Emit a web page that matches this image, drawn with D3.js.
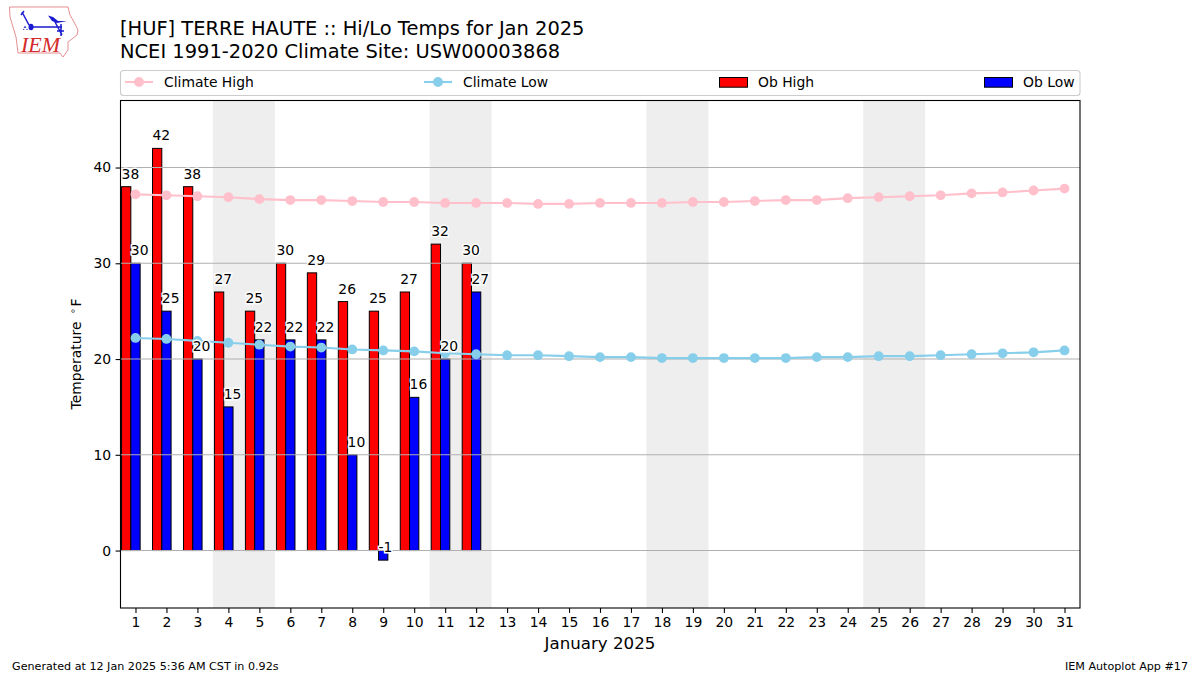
<!DOCTYPE html>
<html><head><meta charset="utf-8">
<script src="https://cdn.jsdelivr.net/npm/d3@7/dist/d3.min.js"></script>
<style>html,body{margin:0;padding:0;background:#fff}svg{display:block}text{font-family:"DejaVu Sans",sans-serif;fill:#000}</style>
</head><body><svg id="c" width="1200" height="675"></svg>
<script>
const days=d3.range(1,32);
const obDays=[1,2,3,4,5,6,7,8,9,10,11,12];
const obHigh=[38,42,38,27,25,30,29,26,25,27,32,30];
const obLow=[30,25,20,15,22,22,22,10,-1,16,20,27];
const climateHigh=[37.2,37.1,37.0,36.9,36.7,36.6,36.6,36.5,36.4,36.4,36.3,36.3,36.3,36.2,36.2,36.3,36.3,36.3,36.4,36.4,36.5,36.6,36.6,36.8,36.9,37.0,37.1,37.3,37.4,37.6,37.8];
const climateLow=[22.2,22.1,21.9,21.7,21.5,21.3,21.2,21.0,20.9,20.8,20.6,20.5,20.4,20.4,20.3,20.2,20.2,20.1,20.1,20.1,20.1,20.1,20.2,20.2,20.3,20.3,20.4,20.5,20.6,20.7,20.9];
const weekends=[[4,5],[11,12],[18,19],[25,26]];
const yTicks=[0,10,20,30,40];
const seriesNames=["Climate High","Climate Low","Ob High","Ob Low"];
const titleLines=["[HUF] TERRE HAUTE :: Hi/Lo Temps for Jan 2025","NCEI 1991-2020 Climate Site: USW00003868"];

const L=120,R=1080,T=100.5,B=608;
const x=d3.scaleLinear().domain([0.5,31.5]).range([L,R]);
const y=d3.scaleLinear().domain([-6,47]).range([B,T]);
const svg=d3.select("#c");
const bw=x(1.3)-x(1);

// weekend shading
svg.append("g").selectAll("rect").data(weekends).join("rect")
 .attr("x",d=>x(d[0]-.5)).attr("width",d=>x(d[1]+.5)-x(d[0]-.5))
 .attr("y",T).attr("height",B-T).attr("fill","#eeeeee");

// bars
const bar=(vals,off,col)=>svg.append("g").selectAll("rect").data(obDays).join("rect")
 .attr("x",d=>x(d+off)).attr("width",bw)
 .attr("y",(d,i)=>Math.min(y(vals[i]),y(0))).attr("height",(d,i)=>Math.abs(y(vals[i])-y(0)))
 .attr("fill",col).attr("stroke","#000").attr("stroke-width",1);
bar(obHigh,-.45,"#ff0000");
bar(obLow,-.15,"#0000ff");

// grid
svg.append("g").selectAll("line").data(yTicks).join("line")
 .attr("x1",L).attr("x2",R).attr("y1",d=>y(d)).attr("y2",d=>y(d))
 .attr("stroke","#b0b0b0").attr("stroke-width",1.1);

// climate lines
const line=d3.line().x((d,i)=>x(days[i])).y(d=>y(d));
const climate=(vals,col)=>{
 svg.append("path").datum(vals).attr("d",line).attr("fill","none").attr("stroke",col).attr("stroke-width",2.1);
 svg.append("g").selectAll("circle").data(vals).join("circle")
  .attr("cx",(d,i)=>x(days[i])).attr("cy",d=>y(d)).attr("r",4.9).attr("fill",col);
};
climate(climateHigh,"#ffc0cb");
climate(climateLow,"#87ceeb");

// bar labels
const labels=(vals,off)=>svg.append("g").selectAll("text").data(obDays).join("text")
 .attr("x",d=>x(d+off)).attr("y",(d,i)=>y(vals[i])-8)
 .attr("font-size","13.9px").attr("stroke","#fff").attr("stroke-width",2.8).attr("paint-order","stroke")
 .text((d,i)=>vals[i]);
labels(obHigh,-.45);
labels(obLow,-.15);

// frame
svg.append("rect").attr("x",L+.5).attr("y",T).attr("width",R-L-.5).attr("height",B-T).attr("fill","none").attr("stroke","#000").attr("stroke-width",1.1);

// axes
const ax=svg.append("g").attr("transform",`translate(0,${B})`).call(d3.axisBottom(x).tickValues(days).tickFormat(d3.format("d")).tickSize(4.9).tickPadding(4.5));
const ay=svg.append("g").attr("transform",`translate(${L+.5},0)`).call(d3.axisLeft(y).tickValues(yTicks).tickSize(4.9).tickPadding(4.5));
[ax,ay].forEach(a=>{a.select(".domain").remove();a.selectAll("line").attr("stroke","#000").attr("stroke-width",1.1);
 a.selectAll("text").attr("font-size","13.9px").attr("font-family","DejaVu Sans");});

// titles
svg.append("g").selectAll("text").data(titleLines).join("text")
 .attr("x",120).attr("y",(d,i)=>35+i*22.5).attr("font-size","19.44px").text(d=>d);

// axis titles
svg.append("text").attr("x",600).attr("y",649).attr("text-anchor","middle").attr("font-size","16.67px").text("January 2025");
const yl=svg.append("text").attr("transform","translate(81,354) rotate(-90)").attr("text-anchor","middle").attr("font-size","13.9px");
yl.append("tspan").text("Temperature ");
yl.append("tspan").attr("font-size","9.7px").attr("dx",3).attr("dy",-5).text("∘");
yl.append("tspan").attr("dx",1.5).attr("dy",5).text("F");

// legend
svg.append("rect").attr("x",120.5).attr("y",70.5).attr("width",959.5).attr("height",25).attr("rx",3).attr("fill","#fff").attr("stroke","#cccccc").attr("stroke-width",1.1);
const lgY=82;
const lgLine=(x0,col)=>{
 svg.append("line").attr("x1",x0).attr("x2",x0+28).attr("y1",lgY).attr("y2",lgY).attr("stroke",col).attr("stroke-width",2.1);
 svg.append("circle").attr("cx",x0+14).attr("cy",lgY).attr("r",4.9).attr("fill",col);
};
const lgBox=(x0,col)=>svg.append("rect").attr("x",x0).attr("y",77.5).attr("width",28).attr("height",9.7).attr("fill",col).attr("stroke","#000").attr("stroke-width",1);
lgLine(125,"#ffc0cb");lgLine(424,"#87ceeb");lgBox(719.5,"#ff0000");lgBox(984.5,"#0000ff");
svg.append("g").selectAll("text").data(seriesNames).join("text")
 .attr("x",(d,i)=>[164,463,758,1023][i]).attr("y",86.5).attr("font-size","13.9px").text(d=>d);

// footer
svg.append("text").attr("x",12).attr("y",670).attr("font-size","11.15px").text("Generated at 12 Jan 2025 5:36 AM CST in 0.92s");
svg.append("text").attr("x",1188).attr("y",670).attr("text-anchor","end").attr("font-size","11.15px").text("IEM Autoplot App #17");

// logo
const logo=svg.append("g");
logo.append("path").attr("d","M9.5 7 L68 7 L70 15 L74 22 L78 30 L77 35 L72 39 L68 42 L68 50 L63 57 L60 53 L18 53 L16 37 L13 27 L10 17 Z")
 .attr("fill","#fff").attr("stroke","#e58f8f").attr("stroke-width",1);
logo.append("path").attr("d","M31 27 L62 27 M55 22 L62 35 M61 24 L61 36 M22 12 L29 25 M21 15 L24 11 M57 31 L64 31").attr("stroke","#1a1ad0").attr("stroke-width",1.5).attr("fill","none");
logo.append("path").attr("d","M48 15.5 L53 17 L58 21 L67 21 L57 23 L52 21 Z").attr("fill","#1a1ad0");
logo.append("ellipse").attr("cx",31).attr("cy",27).attr("rx",2.5).attr("ry",3.2).attr("fill","#1a1ad0");
logo.append("path").attr("d","M25 25.5 L26.5 28 L23.5 28 Z M23 28.5 L25 30 L23 30 Z M27 28.5 L28 30 L26 30 Z").attr("fill","#4a4ad0");
logo.append("text").attr("x",21).attr("y",52).style("font-family","Liberation Serif").style("font-style","italic").attr("font-size","22px").style("fill","#d42a2a").text("IEM");
</script></body></html>
